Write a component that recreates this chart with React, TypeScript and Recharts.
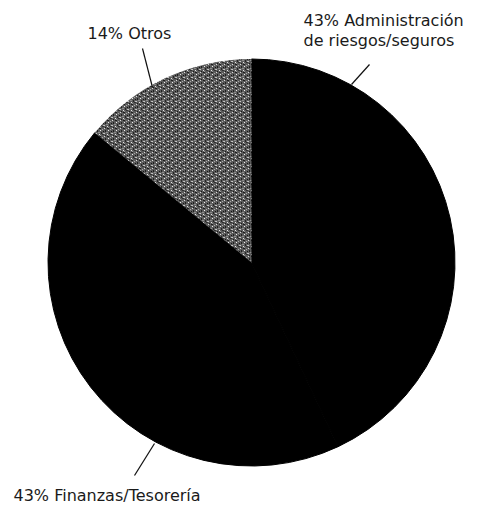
import { PieChart, Pie, Cell } from 'recharts'

const categories = ['Administración de riesgos/seguros', 'Finanzas/Tesorería', 'Otros']
const shares = [43, 43, 14]
const labelLines = [
  ['43% Administración', 'de riesgos/seguros'],
  ['43% Finanzas/Tesorería'],
  ['14% Otros'],
]

const data = categories.map((name, i) => ({ name, value: shares[i] }))

const fills = ['#000000', '#000000', 'url(#otrosTexture)']
const strokes = ['#000000', '#000000', 'none']

// leader line + text placement, relative to the pie centre
const labelLayout = [
  { from: [100, -178], to: [118, -198], text: [52, -237], lineGap: 20 },
  { from: [-97, 181], to: [-117, 213], text: [-238, 238], lineGap: 20 },
  { from: [-99, -175], to: [-109, -214], text: [-164, -224], lineGap: 20 },
]

// speckle cells for the "Otros" texture: [x, y, w, h, colour]
const speckles: [number, number, number, number, string][] = [
  [0, 0, 1, 1, '#dcdcdc'], [3, 0, 2, 1, '#1c1c1c'], [6, 1, 1, 1, '#a8a8a8'],
  [1, 2, 1, 2, '#202020'], [4, 2, 1, 1, '#f0f0f0'], [7, 3, 1, 1, '#141414'],
  [2, 4, 2, 1, '#8c8c8c'], [5, 4, 1, 2, '#262626'], [0, 5, 1, 1, '#c8c8c8'],
  [3, 6, 1, 1, '#e6e6e6'], [6, 6, 2, 1, '#303030'], [1, 7, 1, 1, '#181818'],
  [4, 7, 1, 1, '#9a9a9a'], [7, 5, 1, 1, '#bdbdbd'],
]

function renderLabel(props: any) {
  const { cx, cy, index } = props
  const l = labelLayout[index]
  return (
    <g key={`lbl-${index}`}>
      <line
        x1={cx + l.from[0]}
        y1={cy + l.from[1]}
        x2={cx + l.to[0]}
        y2={cy + l.to[1]}
        stroke="#111"
        strokeWidth={1.2}
      />
      <text
        x={cx + l.text[0]}
        y={cy + l.text[1]}
        fill="#1a1a1a"
        fontSize={16}
        fontFamily="'DejaVu Sans', sans-serif"
      >
        {labelLines[index].map((t, j) => (
          <tspan key={j} x={cx + l.text[0]} dy={j === 0 ? 0 : l.lineGap}>
            {t}
          </tspan>
        ))}
      </text>
    </g>
  )
}

export default function App() {
  return (
    <div style={{ position: 'fixed', left: 0, top: 0, width: 486, height: 506, background: '#fff' }}>
      <PieChart width={486} height={506} margin={{ top: 0, right: 0, bottom: 0, left: 0 }}>
        <defs>
          <pattern id="otrosTexture" width="8" height="8" patternUnits="userSpaceOnUse">
            <rect width="8" height="8" fill="#5c5c5c" />
            {speckles.map(([x, y, w, h, c], i) => (
              <rect key={i} x={x} y={y} width={w} height={h} fill={c} />
            ))}
          </pattern>
        </defs>
        <Pie
          data={data}
          dataKey="value"
          nameKey="name"
          cx={251.5}
          cy={262.5}
          innerRadius={0}
          outerRadius={203.5}
          startAngle={90}
          endAngle={-270}
          label={renderLabel}
          labelLine={false}
          isAnimationActive={false}
        >
          {data.map((d, i) => (
            <Cell key={d.name} fill={fills[i]} stroke={strokes[i]} strokeWidth={1} />
          ))}
        </Pie>
      </PieChart>
    </div>
  )
}
